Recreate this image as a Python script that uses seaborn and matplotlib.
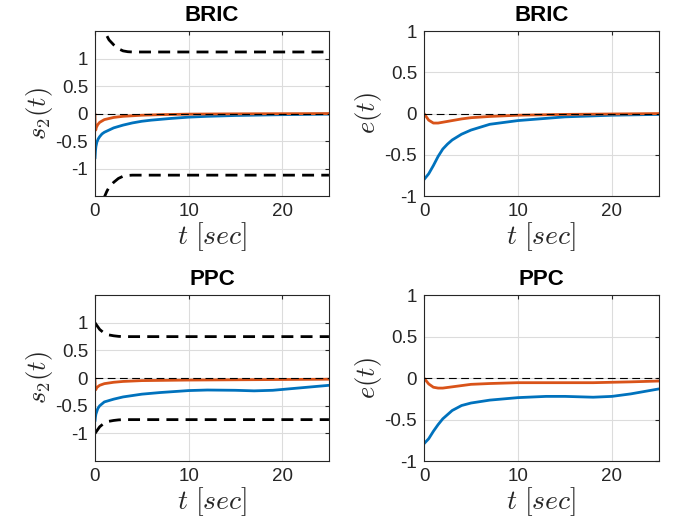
import numpy as np
import pandas as pd
import seaborn as sns
import matplotlib
matplotlib.use("Agg")
import matplotlib.pyplot as plt

# --- data ---
# BRIC, s2(t)
t_bric_s_blue = [0, 0.05, 0.1, 0.2, 0.35, 0.5, 0.75, 1, 1.5, 2, 3, 4, 5, 6, 8, 10, 12, 15, 20, 25]
bric_s_blue = [-0.82, -0.68, -0.6, -0.52, -0.46, -0.42, -0.37, -0.34, -0.3, -0.26, -0.21, -0.17,
               -0.14, -0.12, -0.09, -0.065, -0.05, -0.035, -0.02, -0.01]
t_bric_s_orange = [0, 0.02, 0.08, 0.15, 0.3, 0.5, 1, 2, 3, 5, 7, 10, 15, 25]
bric_s_orange = [0, -0.2, -0.3, -0.25, -0.2, -0.16, -0.11, -0.07, -0.05, -0.03, -0.02, -0.01, -0.005, 0]
t_bric_bound = [0, 0.25, 0.5, 0.75, 1, 1.25, 1.5, 2, 2.5, 3, 3.5, 4, 25]
bric_bound = [2.6, 2.2, 1.9, 1.68, 1.52, 1.42, 1.34, 1.25, 1.18, 1.14, 1.125, 1.12, 1.12]

# BRIC, e(t)
t_bric_e = [0, 0.5, 1, 1.5, 2, 2.5, 3, 4, 5, 7, 10, 15, 20, 25]
bric_e_blue = [-0.8, -0.73, -0.63, -0.52, -0.43, -0.37, -0.32, -0.25, -0.2, -0.13, -0.085, -0.04, -0.02, -0.01]
bric_e_orange = [0, -0.08, -0.115, -0.115, -0.105, -0.095, -0.085, -0.065, -0.05, -0.035, -0.02, -0.01, -0.005, 0]

# PPC, s2(t)
t_ppc_s_blue = [0, 0.05, 0.1, 0.3, 0.5, 1, 2, 3, 5, 7, 10, 12, 15, 17, 19, 21, 23, 25]
ppc_s_blue = [-0.78, -0.7, -0.65, -0.55, -0.5, -0.43, -0.38, -0.34, -0.29, -0.26, -0.225, -0.215,
              -0.22, -0.23, -0.22, -0.19, -0.16, -0.13]
t_ppc_s_orange = [0, 0.02, 0.08, 0.2, 0.5, 1, 2, 3, 5, 10, 15, 20, 25]
ppc_s_orange = [0, -0.15, -0.21, -0.17, -0.13, -0.1, -0.075, -0.06, -0.045, -0.035, -0.03, -0.025, -0.02]
t_ppc_bound = [0, 0.5, 1, 1.5, 2, 2.5, 3, 25]
ppc_bound = [1.0, 0.88, 0.81, 0.78, 0.765, 0.755, 0.75, 0.75]

# PPC, e(t)
t_ppc_e = [0, 0.5, 1, 1.5, 2, 3, 4, 5, 7, 10, 13, 15, 18, 20, 22, 25]
ppc_e_blue = [-0.79, -0.73, -0.64, -0.56, -0.49, -0.39, -0.33, -0.3, -0.265, -0.235, -0.22, -0.22,
              -0.23, -0.22, -0.19, -0.13]
ppc_e_orange = [0, -0.07, -0.11, -0.12, -0.12, -0.105, -0.09, -0.075, -0.065, -0.055, -0.055, -0.055,
                -0.055, -0.05, -0.045, -0.035]

blue = "#0072BD"
orange = "#D95319"

sns.set_style("white")
plt.rcParams["font.family"] = ["Liberation Sans", "DejaVu Sans"]
plt.rcParams["mathtext.fontset"] = "cm"
plt.rcParams["axes.unicode_minus"] = False

fig = plt.figure(figsize=(6.77, 5.27), dpi=100)
ax_tl = fig.add_axes([0.1403, 0.628, 0.3456, 0.313])
ax_tr = fig.add_axes([0.6263, 0.628, 0.347, 0.313])
ax_bl = fig.add_axes([0.1403, 0.125, 0.3456, 0.315])
ax_br = fig.add_axes([0.6263, 0.125, 0.347, 0.315])

bound_style = dict(color="black", lw=2, linestyle=(0, (4.3, 2.6)))


def zero_line(ax):
    ax.axhline(0, color="black", lw=0.8, linestyle=(0, (7, 4)), zorder=5)


# top left
sns.lineplot(x=t_bric_bound, y=bric_bound, ax=ax_tl, **bound_style)
sns.lineplot(x=t_bric_bound, y=[-v for v in bric_bound], ax=ax_tl, **bound_style)
sns.lineplot(x=t_bric_s_blue, y=bric_s_blue, ax=ax_tl, color=blue, lw=2)
sns.lineplot(x=t_bric_s_orange, y=bric_s_orange, ax=ax_tl, color=orange, lw=2)
zero_line(ax_tl)

# top right
sns.lineplot(x=t_bric_e, y=bric_e_blue, ax=ax_tr, color=blue, lw=2)
sns.lineplot(x=t_bric_e, y=bric_e_orange, ax=ax_tr, color=orange, lw=2)
zero_line(ax_tr)

# bottom left
sns.lineplot(x=t_ppc_bound, y=ppc_bound, ax=ax_bl, **bound_style)
sns.lineplot(x=t_ppc_bound, y=[-v for v in ppc_bound], ax=ax_bl, **bound_style)
sns.lineplot(x=t_ppc_s_blue, y=ppc_s_blue, ax=ax_bl, color=blue, lw=2)
sns.lineplot(x=t_ppc_s_orange, y=ppc_s_orange, ax=ax_bl, color=orange, lw=2)
zero_line(ax_bl)

# bottom right
sns.lineplot(x=t_ppc_e, y=ppc_e_blue, ax=ax_br, color=blue, lw=2)
sns.lineplot(x=t_ppc_e, y=ppc_e_orange, ax=ax_br, color=orange, lw=2)
zero_line(ax_br)

for ax, title, ylab, ylim in [(ax_tl, "BRIC", r"$s_2(t)$", 1.5), (ax_tr, "BRIC", r"$e(t)$", 1.0),
                              (ax_bl, "PPC", r"$s_2(t)$", 1.5), (ax_br, "PPC", r"$e(t)$", 1.0)]:
    ax.set_xlim(0, 25)
    ax.set_ylim(-ylim, ylim)
    ax.set_xticks([0, 10, 20])
    ax.set_yticks([-1, -0.5, 0, 0.5, 1])
    ax.set_yticklabels(["-1", "-0.5", "0", "0.5", "1"])
    ax.grid(True, color="#dcdcdc", lw=0.8)
    ax.set_axisbelow(True)
    for s in ax.spines.values():
        s.set_visible(True)
        s.set_color("#262626")
        s.set_linewidth(0.8)
    ax.tick_params(direction="in", length=3, labelsize=13.5, colors="#262626",
                   top=True, right=True, pad=5)
    ax.set_title(title, fontsize=16, fontweight="bold", color="black", pad=7)
    ax.set_xlabel(r"$t\ [sec]$", fontsize=20, labelpad=0)
    ax.set_ylabel(ylab, fontsize=19, labelpad=0)

fig.savefig("out.png", dpi=100)
